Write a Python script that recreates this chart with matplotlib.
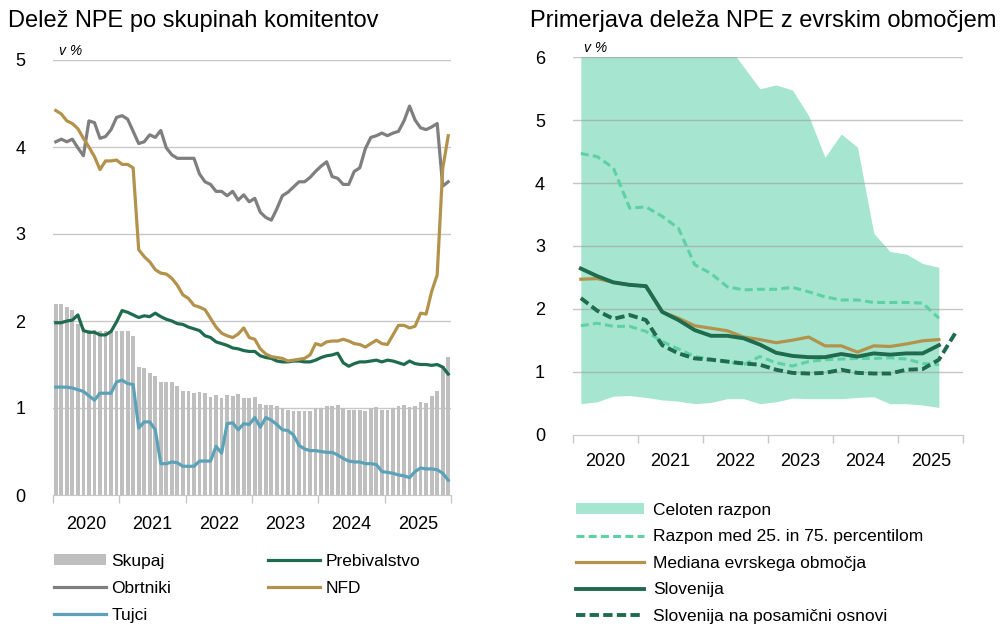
import numpy as np
import matplotlib.pyplot as plt
from matplotlib.patches import Patch
from matplotlib.lines import Line2D

plt.rcParams['font.family'] = ['Liberation Sans', 'DejaVu Sans']

# ---- left panel: monthly data 2020-2025 ----
years = ['2020', '2021', '2022', '2023', '2024', '2025']

skupaj = [2.20, 2.20, 2.16, 2.13, 1.97, 1.92, 1.90, 1.90, 1.89, 1.89, 1.89, 1.88,
          1.88, 1.88, 1.83, 1.47, 1.46, 1.40, 1.37, 1.30, 1.30, 1.30, 1.25, 1.20,
          1.19, 1.17, 1.18, 1.17, 1.13, 1.15, 1.11, 1.15, 1.14, 1.16, 1.12, 1.12,
          1.13, 1.05, 1.04, 1.04, 1.02, 1.00, 0.98, 0.97, 0.96, 0.97, 0.97, 1.00,
          1.00, 1.02, 1.02, 1.03, 1.00, 0.98, 0.98, 0.98, 0.97, 1.00, 1.01, 0.98,
          0.98, 1.00, 1.02, 1.03, 1.01, 1.02, 1.07, 1.06, 1.14, 1.19, 1.48, 1.59]

prebivalstvo = [1.98, 1.98, 2.00, 2.01, 2.07, 1.89, 1.87, 1.87, 1.84, 1.84, 1.88, 1.99,
                2.12, 2.10, 2.07, 2.04, 2.06, 2.05, 2.09, 2.05, 2.02, 2.00, 1.97, 1.96,
                1.93, 1.91, 1.89, 1.83, 1.81, 1.76, 1.74, 1.72, 1.69, 1.68, 1.66, 1.65,
                1.65, 1.60, 1.58, 1.57, 1.54, 1.53, 1.53, 1.54, 1.54, 1.53, 1.53, 1.55,
                1.58, 1.60, 1.61, 1.63, 1.52, 1.48, 1.51, 1.53, 1.53, 1.54, 1.55, 1.53,
                1.55, 1.54, 1.52, 1.50, 1.54, 1.51, 1.50, 1.50, 1.49, 1.50, 1.47, 1.39]

obrtniki = [4.06, 4.09, 4.06, 4.09, 3.99, 3.90, 4.30, 4.28, 4.10, 4.12, 4.20, 4.34,
            4.36, 4.32, 4.18, 4.04, 4.06, 4.14, 4.11, 4.19, 3.99, 3.91, 3.87, 3.87,
            3.87, 3.87, 3.69, 3.60, 3.57, 3.49, 3.49, 3.44, 3.49, 3.39, 3.45, 3.37,
            3.41, 3.25, 3.19, 3.16, 3.29, 3.44, 3.48, 3.54, 3.60, 3.60, 3.65, 3.72,
            3.78, 3.83, 3.66, 3.64, 3.57, 3.57, 3.72, 3.76, 3.98, 4.11, 4.13, 4.16,
            4.13, 4.16, 4.18, 4.30, 4.47, 4.31, 4.22, 4.20, 4.23, 4.27, 3.55, 3.60]

nfd = [4.42, 4.38, 4.30, 4.27, 4.21, 4.10, 4.00, 3.89, 3.74, 3.84, 3.84, 3.85,
       3.80, 3.80, 3.76, 2.82, 2.74, 2.68, 2.59, 2.55, 2.54, 2.49, 2.41, 2.30,
       2.26, 2.18, 2.16, 2.13, 2.03, 1.93, 1.86, 1.83, 1.81, 1.85, 1.92, 1.81,
       1.79, 1.68, 1.62, 1.59, 1.58, 1.57, 1.54, 1.55, 1.56, 1.57, 1.61, 1.74,
       1.72, 1.76, 1.77, 1.77, 1.79, 1.77, 1.74, 1.73, 1.70, 1.74, 1.78, 1.74,
       1.73, 1.84, 1.95, 1.95, 1.92, 1.94, 2.09, 2.08, 2.34, 2.53, 3.75, 4.13]

tujci = [1.24, 1.24, 1.24, 1.23, 1.21, 1.19, 1.14, 1.09, 1.17, 1.17, 1.17, 1.30,
         1.32, 1.28, 1.27, 0.77, 0.84, 0.84, 0.75, 0.36, 0.36, 0.38, 0.37, 0.33,
         0.33, 0.33, 0.39, 0.39, 0.39, 0.56, 0.48, 0.82, 0.83, 0.75, 0.82, 0.81,
         0.89, 0.78, 0.89, 0.86, 0.81, 0.75, 0.74, 0.69, 0.57, 0.53, 0.51, 0.51,
         0.50, 0.49, 0.49, 0.46, 0.42, 0.39, 0.38, 0.38, 0.36, 0.36, 0.35, 0.27,
         0.26, 0.25, 0.23, 0.22, 0.20, 0.27, 0.31, 0.30, 0.30, 0.29, 0.25, 0.17]

# ---- right panel: quarterly data ----
razpon_max = [9.0, 8.8, 8.5, 8.3, 7.9, 7.4, 7.0, 6.7, 6.4, 6.2, 5.85, 5.50,
              5.56, 5.48, 5.07, 4.41, 4.78, 4.57, 3.20, 2.91, 2.87, 2.72, 2.66]
razpon_min = [0.49, 0.52, 0.61, 0.62, 0.59, 0.55, 0.53, 0.49, 0.51, 0.57, 0.57, 0.49,
              0.52, 0.58, 0.57, 0.57, 0.57, 0.59, 0.60, 0.49, 0.49, 0.47, 0.43]
p75 = [4.47, 4.42, 4.24, 3.60, 3.62, 3.47, 3.28, 2.70, 2.56, 2.35, 2.30, 2.31,
       2.31, 2.34, 2.27, 2.19, 2.14, 2.14, 2.10, 2.10, 2.10, 2.09, 1.85]
p25 = [1.73, 1.77, 1.72, 1.72, 1.64, 1.48, 1.36, 1.24, 1.20, 1.16, 1.11, 1.24,
       1.14, 1.09, 1.16, 1.19, 1.20, 1.21, 1.21, 1.22, 1.20, 1.13, 1.11]
mediana = [2.47, 2.48, 2.42, 2.38, 2.36, 1.95, 1.85, 1.73, 1.69, 1.65, 1.55, 1.51,
           1.46, 1.50, 1.55, 1.41, 1.41, 1.31, 1.41, 1.40, 1.44, 1.49, 1.51]
slovenija = [2.64, 2.52, 2.42, 2.38, 2.36, 1.95, 1.82, 1.66, 1.57, 1.57, 1.53, 1.43,
             1.30, 1.25, 1.23, 1.23, 1.28, 1.24, 1.29, 1.27, 1.29, 1.29, 1.42]
slovenija_pos = [2.17, 1.97, 1.84, 1.90, 1.82, 1.42, 1.29, 1.21, 1.19, 1.16, 1.13, 1.11,
                 1.03, 0.98, 0.97, 0.98, 1.03, 0.98, 0.97, 0.97, 1.03, 1.04, 1.19, 1.61]

c_skupaj = '#bfbfbf'
c_obrt = '#7f7f7f'
c_nfd = '#b3924c'
c_preb = '#1f6b4e'
c_tujci = '#5ba2b8'
c_fill = '#a6e5cf'
c_perc = '#5dd1a4'
c_grid = '#c8c8c8'

fig = plt.figure(figsize=(10.01, 6.28), dpi=100)

# ================= left chart =================
ax1 = fig.add_axes([53/1001, 1-495/628, 398/1001, 435/628])
m = np.arange(len(skupaj))
ax1.bar(m, skupaj, width=0.68, color=c_skupaj, zorder=2)
for v in [1, 2, 3, 4, 5]:
    ax1.axhline(v, color=c_grid, lw=1, zorder=1)
ax1.plot(m, obrtniki, color=c_obrt, lw=2.3, zorder=3)
ax1.plot(m, prebivalstvo, color=c_preb, lw=2.3, zorder=3)
ax1.plot(m, tujci, color=c_tujci, lw=2.3, zorder=3)
ax1.plot(m, nfd, color=c_nfd, lw=2.3, zorder=4)

ax1.set_xlim(-0.5, 71.5)
ax1.set_ylim(0, 5)
ax1.set_yticks([0, 1, 2, 3, 4, 5])
ax1.set_xticks(np.arange(-0.5, 72, 12))
ax1.set_xticklabels([])
ax1.set_xticks(np.arange(5.5, 72, 12), minor=True)
ax1.set_xticklabels(years, minor=True)
ax1.tick_params(axis='x', which='major', length=6, color=c_grid, width=1)
ax1.tick_params(axis='x', which='minor', length=0, pad=15, labelsize=13)
ax1.tick_params(axis='y', length=0, pad=20, labelsize=13)
for s in ['left', 'right', 'top']:
    ax1.spines[s].set_visible(False)
ax1.spines['bottom'].set_color(c_grid)
ax1.text(0.015, 1.005, 'v %', transform=ax1.transAxes, fontsize=10, style='italic',
         va='bottom', ha='left')

fig.text(8/1001, 1-21/628, 'Delež NPE po skupinah komitentov', fontsize=17,
         va='center', ha='left')

h_left = [Patch(facecolor=c_skupaj, edgecolor='none'),
          Line2D([], [], color=c_obrt, lw=2.3),
          Line2D([], [], color=c_tujci, lw=2.3),
          Line2D([], [], color=c_preb, lw=2.3),
          Line2D([], [], color=c_nfd, lw=2.3)]
l_left = ['Skupaj', 'Obrtniki', 'Tujci', 'Prebivalstvo', 'NFD']
fig.legend(h_left, l_left, loc='upper left', bbox_to_anchor=(54/1001, 1-554/628),
           ncol=2, frameon=False, fontsize=12.5, handlelength=3.0, handleheight=0.6,
           handletextpad=0.3, labelspacing=0.7, columnspacing=5.6,
           borderpad=0, borderaxespad=0)

# ================= right chart =================
ax2 = fig.add_axes([572.7/1001, 1-434.5/628, 390.6/1001, 377.2/628])
q = np.arange(len(razpon_max))
q2 = np.arange(len(slovenija_pos))
ax2.fill_between(q, razpon_min, razpon_max, color=c_fill, lw=0, zorder=1)
for v in [1, 2, 3, 4, 5, 6]:
    ax2.axhline(v, color='#a0a0a0', lw=1, alpha=0.6, zorder=1.5)
ax2.plot(q, p75, color=c_perc, lw=2.2, dashes=(2.6, 1.4), zorder=3)
ax2.plot(q, p25, color=c_perc, lw=2.2, dashes=(2.6, 1.4), zorder=3)
ax2.plot(q, mediana, color=c_nfd, lw=2.3, zorder=3)
ax2.plot(q, slovenija, color=c_preb, lw=2.8, zorder=4)
ax2.plot(q2, slovenija_pos, color=c_preb, lw=2.8, dashes=(2.4, 1.1), zorder=4)

ax2.set_xlim(-0.5, 23.5)
ax2.set_ylim(0, 6)
ax2.set_yticks([0, 1, 2, 3, 4, 5, 6])
ax2.set_xticks(np.arange(-0.5, 24, 4))
ax2.set_xticklabels([])
ax2.set_xticks(np.arange(1.5, 24, 4), minor=True)
ax2.set_xticklabels(years, minor=True)
ax2.tick_params(axis='x', which='major', length=6, color=c_grid, width=1)
ax2.tick_params(axis='x', which='minor', length=0, pad=13, labelsize=13)
ax2.tick_params(axis='y', length=0, pad=20, labelsize=13)
for s in ['left', 'right', 'top']:
    ax2.spines[s].set_visible(False)
ax2.spines['bottom'].set_color(c_grid)
ax2.text(0.03, 1.005, 'v %', transform=ax2.transAxes, fontsize=10, style='italic',
         va='bottom', ha='left')

fig.text(530/1001, 1-21/628, 'Primerjava deleža NPE z evrskim območjem', fontsize=17,
         va='center', ha='left')

h_right = [Patch(facecolor=c_fill, edgecolor='none'),
           Line2D([], [], color=c_perc, lw=2.2, dashes=(2.6, 1.4)),
           Line2D([], [], color=c_nfd, lw=2.3),
           Line2D([], [], color=c_preb, lw=2.8),
           Line2D([], [], color=c_preb, lw=2.8, dashes=(2.4, 1.1))]
l_right = ['Celoten razpon', 'Razpon med 25. in 75. percentilom',
           'Mediana evrskega območja', 'Slovenija', 'Slovenija na posamični osnovi']
fig.legend(h_right, l_right, loc='upper left', bbox_to_anchor=(576/1001, 1-503/628),
           ncol=1, frameon=False, fontsize=12.5, handlelength=3.9, handleheight=0.6,
           handletextpad=0.55, labelspacing=0.66, borderpad=0, borderaxespad=0)

plt.savefig('out.png', dpi=100)
